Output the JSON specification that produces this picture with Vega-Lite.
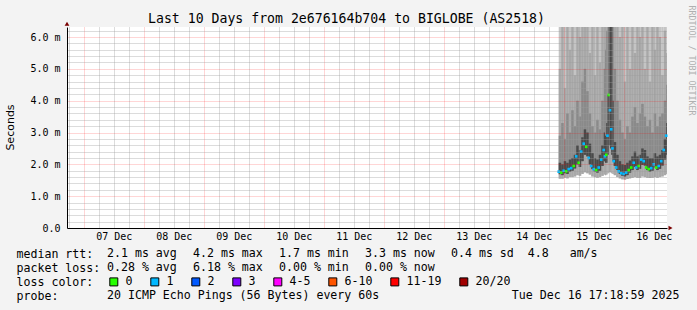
{
"$schema": "https://vega.github.io/schema/vega-lite/v6.json",
"width": 600,
"height": 201,
"autosize": {"type": "none"},
"padding": {"left": 67, "top": 27, "right": 30, "bottom": 82},
"background": "#f3f3f3",
"config": {"view": {"fill": "#ffffff", "stroke": null}, "font": "DejaVu Sans Mono"},
"title": {"text": "Last 10 Days from 2e676164b704 to BIGLOBE (AS2518)", "font": "DejaVu Sans Mono", "fontSize": 13.2, "fontWeight": "normal", "color": "#000000", "anchor": "start", "align": "left", "frame": "group", "dx": 81, "offset": -31.2, "baseline": "alphabetic"},
"datasets": {
"ping": [
{"t0": "2025-12-14T22:00:00", "t1": "2025-12-14T23:00:00", "med": 1.77, "loss": "1", "lo": 1.55, "q1": 1.69, "q3": 2.05, "q4": 2.9, "p90": 5.0},
{"t0": "2025-12-14T23:00:00", "t1": "2025-12-15T00:00:00", "med": 1.74, "loss": "0", "lo": 1.55, "q1": 1.66, "q3": 2.0, "q4": 3.3, "p90": 7.0},
{"t0": "2025-12-15T00:00:00", "t1": "2025-12-15T01:00:00", "med": 1.80, "loss": "1", "lo": 1.58, "q1": 1.72, "q3": 2.1, "q4": 2.8, "p90": 4.4},
{"t0": "2025-12-15T01:00:00", "t1": "2025-12-15T02:00:00", "med": 1.78, "loss": "0", "lo": 1.56, "q1": 1.70, "q3": 2.05, "q4": 3.6, "p90": 7.5},
{"t0": "2025-12-15T02:00:00", "t1": "2025-12-15T03:00:00", "med": 1.85, "loss": "1", "lo": 1.6, "q1": 1.77, "q3": 2.15, "q4": 3.0, "p90": 5.6},
{"t0": "2025-12-15T03:00:00", "t1": "2025-12-15T04:00:00", "med": 1.88, "loss": "1", "lo": 1.6, "q1": 1.80, "q3": 2.2, "q4": 3.7, "p90": 8.0},
{"t0": "2025-12-15T04:00:00", "t1": "2025-12-15T05:00:00", "med": 1.95, "loss": "0", "lo": 1.62, "q1": 1.87, "q3": 2.3, "q4": 3.2, "p90": 4.8},
{"t0": "2025-12-15T05:00:00", "t1": "2025-12-15T06:00:00", "med": 2.25, "loss": "1", "lo": 1.66, "q1": 2.0, "q3": 2.6, "q4": 4.0, "p90": 7.5},
{"t0": "2025-12-15T06:00:00", "t1": "2025-12-15T07:00:00", "med": 2.05, "loss": "0", "lo": 1.64, "q1": 1.92, "q3": 2.45, "q4": 3.5, "p90": 6.0},
{"t0": "2025-12-15T07:00:00", "t1": "2025-12-15T08:00:00", "med": 2.4, "loss": "1", "lo": 1.7, "q1": 2.1, "q3": 2.85, "q4": 4.6, "p90": 8.0},
{"t0": "2025-12-15T08:00:00", "t1": "2025-12-15T09:00:00", "med": 2.65, "loss": "1", "lo": 1.75, "q1": 2.3, "q3": 3.1, "q4": 5.0, "p90": 7.2},
{"t0": "2025-12-15T09:00:00", "t1": "2025-12-15T10:00:00", "med": 2.55, "loss": "0", "lo": 1.72, "q1": 2.25, "q3": 3.0, "q4": 4.3, "p90": 8.5},
{"t0": "2025-12-15T10:00:00", "t1": "2025-12-15T11:00:00", "med": 2.2, "loss": "1", "lo": 1.68, "q1": 2.0, "q3": 2.65, "q4": 3.6, "p90": 5.5},
{"t0": "2025-12-15T11:00:00", "t1": "2025-12-15T12:00:00", "med": 1.95, "loss": "1", "lo": 1.62, "q1": 1.85, "q3": 2.35, "q4": 3.2, "p90": 7.0},
{"t0": "2025-12-15T12:00:00", "t1": "2025-12-15T13:00:00", "med": 1.85, "loss": "1", "lo": 1.6, "q1": 1.77, "q3": 2.2, "q4": 3.0, "p90": 4.8},
{"t0": "2025-12-15T13:00:00", "t1": "2025-12-15T14:00:00", "med": 1.82, "loss": "0", "lo": 1.58, "q1": 1.74, "q3": 2.15, "q4": 3.4, "p90": 6.6},
{"t0": "2025-12-15T14:00:00", "t1": "2025-12-15T15:00:00", "med": 1.9, "loss": "1", "lo": 1.6, "q1": 1.8, "q3": 2.3, "q4": 3.1, "p90": 5.2},
{"t0": "2025-12-15T15:00:00", "t1": "2025-12-15T16:00:00", "med": 2.15, "loss": "1", "lo": 1.64, "q1": 1.95, "q3": 2.6, "q4": 4.0, "p90": 8.0},
{"t0": "2025-12-15T16:00:00", "t1": "2025-12-15T16:30:00", "med": 2.45, "loss": "1", "lo": 1.68, "q1": 2.1, "q3": 3.0, "q4": 5.0, "p90": 8.5},
{"t0": "2025-12-15T16:30:00", "t1": "2025-12-15T17:00:00", "med": 2.25, "loss": "1", "lo": 1.66, "q1": 2.05, "q3": 2.9, "q4": 5.6, "p90": 9.0},
{"t0": "2025-12-15T17:00:00", "t1": "2025-12-15T17:30:00", "med": 2.3, "loss": "0", "lo": 1.68, "q1": 2.05, "q3": 3.3, "q4": 6.2, "p90": 9.0},
{"t0": "2025-12-15T17:30:00", "t1": "2025-12-15T18:00:00", "med": 2.9, "loss": "1", "lo": 1.72, "q1": 2.3, "q3": 4.2, "q4": 7.5, "p90": 9.0},
{"t0": "2025-12-15T18:00:00", "t1": "2025-12-15T18:30:00", "med": 4.18, "loss": "0", "lo": 1.75, "q1": 2.6, "q3": 9.0, "q4": 9.0, "p90": 9.0},
{"t0": "2025-12-15T18:30:00", "t1": "2025-12-15T19:00:00", "med": 3.7, "loss": "1", "lo": 1.75, "q1": 2.5, "q3": 9.0, "q4": 9.0, "p90": 9.0},
{"t0": "2025-12-15T19:00:00", "t1": "2025-12-15T19:30:00", "med": 3.1, "loss": "1", "lo": 1.72, "q1": 2.3, "q3": 6.5, "q4": 9.0, "p90": 9.0},
{"t0": "2025-12-15T19:30:00", "t1": "2025-12-15T20:00:00", "med": 2.5, "loss": "1", "lo": 1.7, "q1": 2.1, "q3": 4.0, "q4": 7.0, "p90": 9.0},
{"t0": "2025-12-15T20:00:00", "t1": "2025-12-15T21:00:00", "med": 2.1, "loss": "1", "lo": 1.66, "q1": 1.95, "q3": 2.7, "q4": 5.0, "p90": 8.5},
{"t0": "2025-12-15T21:00:00", "t1": "2025-12-15T22:00:00", "med": 1.9, "loss": "1", "lo": 1.6, "q1": 1.82, "q3": 2.3, "q4": 4.0, "p90": 7.5},
{"t0": "2025-12-15T22:00:00", "t1": "2025-12-15T23:00:00", "med": 1.78, "loss": "1", "lo": 1.56, "q1": 1.70, "q3": 2.1, "q4": 3.4, "p90": 6.0},
{"t0": "2025-12-15T23:00:00", "t1": "2025-12-16T00:00:00", "med": 1.72, "loss": "1", "lo": 1.53, "q1": 1.64, "q3": 2.0, "q4": 3.0, "p90": 7.0},
{"t0": "2025-12-16T00:00:00", "t1": "2025-12-16T01:00:00", "med": 1.70, "loss": "1", "lo": 1.52, "q1": 1.62, "q3": 1.98, "q4": 2.8, "p90": 4.6},
{"t0": "2025-12-16T01:00:00", "t1": "2025-12-16T02:00:00", "med": 1.74, "loss": "1", "lo": 1.54, "q1": 1.66, "q3": 2.05, "q4": 3.2, "p90": 6.5},
{"t0": "2025-12-16T02:00:00", "t1": "2025-12-16T03:00:00", "med": 1.82, "loss": "0", "lo": 1.56, "q1": 1.74, "q3": 2.12, "q4": 3.0, "p90": 5.0},
{"t0": "2025-12-16T03:00:00", "t1": "2025-12-16T04:00:00", "med": 1.9, "loss": "0", "lo": 1.58, "q1": 1.82, "q3": 2.25, "q4": 3.5, "p90": 7.2},
{"t0": "2025-12-16T04:00:00", "t1": "2025-12-16T05:00:00", "med": 2.05, "loss": "1", "lo": 1.6, "q1": 1.92, "q3": 2.4, "q4": 3.8, "p90": 5.5},
{"t0": "2025-12-16T05:00:00", "t1": "2025-12-16T06:00:00", "med": 1.9, "loss": "1", "lo": 1.58, "q1": 1.82, "q3": 2.25, "q4": 3.3, "p90": 8.0},
{"t0": "2025-12-16T06:00:00", "t1": "2025-12-16T07:00:00", "med": 1.95, "loss": "0", "lo": 1.58, "q1": 1.86, "q3": 2.3, "q4": 3.6, "p90": 6.0},
{"t0": "2025-12-16T07:00:00", "t1": "2025-12-16T08:00:00", "med": 2.15, "loss": "1", "lo": 1.62, "q1": 1.98, "q3": 2.5, "q4": 3.9, "p90": 7.5},
{"t0": "2025-12-16T08:00:00", "t1": "2025-12-16T09:00:00", "med": 2.1, "loss": "1", "lo": 1.6, "q1": 1.96, "q3": 2.45, "q4": 3.5, "p90": 5.0},
{"t0": "2025-12-16T09:00:00", "t1": "2025-12-16T10:00:00", "med": 1.9, "loss": "0", "lo": 1.58, "q1": 1.82, "q3": 2.25, "q4": 3.2, "p90": 6.6},
{"t0": "2025-12-16T10:00:00", "t1": "2025-12-16T11:00:00", "med": 1.85, "loss": "0", "lo": 1.57, "q1": 1.77, "q3": 2.2, "q4": 3.4, "p90": 4.6},
{"t0": "2025-12-16T11:00:00", "t1": "2025-12-16T12:00:00", "med": 1.88, "loss": "1", "lo": 1.58, "q1": 1.8, "q3": 2.2, "q4": 3.0, "p90": 7.0},
{"t0": "2025-12-16T12:00:00", "t1": "2025-12-16T13:00:00", "med": 2.0, "loss": "1", "lo": 1.6, "q1": 1.9, "q3": 2.35, "q4": 3.6, "p90": 5.6},
{"t0": "2025-12-16T13:00:00", "t1": "2025-12-16T14:00:00", "med": 1.9, "loss": "0", "lo": 1.58, "q1": 1.82, "q3": 2.25, "q4": 3.2, "p90": 8.0},
{"t0": "2025-12-16T14:00:00", "t1": "2025-12-16T15:00:00", "med": 1.95, "loss": "1", "lo": 1.6, "q1": 1.86, "q3": 2.3, "q4": 3.5, "p90": 6.0},
{"t0": "2025-12-16T15:00:00", "t1": "2025-12-16T16:00:00", "med": 2.1, "loss": "1", "lo": 1.62, "q1": 1.96, "q3": 2.45, "q4": 3.6, "p90": 4.8},
{"t0": "2025-12-16T16:00:00", "t1": "2025-12-16T17:00:00", "med": 2.45, "loss": "1", "lo": 1.66, "q1": 2.15, "q3": 2.8, "q4": 4.0, "p90": 6.2},
{"t0": "2025-12-16T17:00:00", "t1": "2025-12-16T17:18:59", "med": 2.9, "loss": "1", "lo": 1.7, "q1": 2.3, "q3": 3.3, "q4": 4.5, "p90": 5.5}
],
"stats": [
{"row": "median rtt:", "col": "avg", "txt": "2.1 ms avg"},
{"row": "median rtt:", "col": "max", "txt": "4.2 ms max"},
{"row": "median rtt:", "col": "min", "txt": "1.7 ms min"},
{"row": "median rtt:", "col": "now", "txt": "3.3 ms now"},
{"row": "median rtt:", "col": "sd", "txt": "0.4 ms sd\u00a0\u00a04.8\u00a0\u00a0\u00a0am/s"},
{"row": "packet loss:", "col": "avg", "txt": "0.28 % avg"},
{"row": "packet loss:", "col": "max", "txt": "6.18 % max"},
{"row": "packet loss:", "col": "min", "txt": "0.00 % min"},
{"row": "packet loss:", "col": "now", "txt": "0.00 % now"},
{"row": "probe:", "col": "avg", "txt": "20 ICMP Echo Pings (56 Bytes) every 60s\u00a0\u00a0\u00a0\u00a0\u00a0\u00a0\u00a0\u00a0\u00a0\u00a0\u00a0\u00a0\u00a0\u00a0\u00a0\u00a0\u00a0\u00a0\u00a0Tue Dec 16 17:18:59 2025"}
],
"marker": [{"end": "top"}]
},
"layer": [
{
"data": {"name": "ping"},
"mark": {"type": "rect", "clip": true, "color": "#c4c4c4"},
"encoding": {
"x": {"field": "t0", "type": "temporal", "scale": {"domain": [{"year": 2025, "month": 12, "date": 6, "hours": 17, "minutes": 18, "seconds": 59}, {"year": 2025, "month": 12, "date": 16, "hours": 17, "minutes": 18, "seconds": 59}], "nice": false},
"axis": {"orient": "bottom", "title": null, "labels": false, "ticks": false, "domain": false, "grid": true, "gridColor": "#9a9a9a", "gridOpacity": 0.7, "gridDash": [1, 1], "zindex": 1,
"values": [
{"year": 2025, "month": 12, "date": 6, "hours": 18},
{"year": 2025, "month": 12, "date": 7, "hours": 6}, {"year": 2025, "month": 12, "date": 7, "hours": 12}, {"year": 2025, "month": 12, "date": 7, "hours": 18},
{"year": 2025, "month": 12, "date": 8, "hours": 6}, {"year": 2025, "month": 12, "date": 8, "hours": 12}, {"year": 2025, "month": 12, "date": 8, "hours": 18},
{"year": 2025, "month": 12, "date": 9, "hours": 6}, {"year": 2025, "month": 12, "date": 9, "hours": 12}, {"year": 2025, "month": 12, "date": 9, "hours": 18},
{"year": 2025, "month": 12, "date": 10, "hours": 6}, {"year": 2025, "month": 12, "date": 10, "hours": 12}, {"year": 2025, "month": 12, "date": 10, "hours": 18},
{"year": 2025, "month": 12, "date": 11, "hours": 6}, {"year": 2025, "month": 12, "date": 11, "hours": 12}, {"year": 2025, "month": 12, "date": 11, "hours": 18},
{"year": 2025, "month": 12, "date": 12, "hours": 6}, {"year": 2025, "month": 12, "date": 12, "hours": 12}, {"year": 2025, "month": 12, "date": 12, "hours": 18},
{"year": 2025, "month": 12, "date": 13, "hours": 6}, {"year": 2025, "month": 12, "date": 13, "hours": 12}, {"year": 2025, "month": 12, "date": 13, "hours": 18},
{"year": 2025, "month": 12, "date": 14, "hours": 6}, {"year": 2025, "month": 12, "date": 14, "hours": 12}, {"year": 2025, "month": 12, "date": 14, "hours": 18},
{"year": 2025, "month": 12, "date": 15, "hours": 6}, {"year": 2025, "month": 12, "date": 15, "hours": 12}, {"year": 2025, "month": 12, "date": 15, "hours": 18},
{"year": 2025, "month": 12, "date": 16, "hours": 6}, {"year": 2025, "month": 12, "date": 16, "hours": 12}
]}},
"x2": {"field": "t1"},
"y": {"field": "lo", "type": "quantitative", "scale": {"domain": [0, 6.315], "nice": false, "zero": false},
"axis": {"orient": "left", "title": null, "labels": false, "ticks": false, "domain": false, "grid": true, "gridColor": "#9a9a9a", "gridOpacity": 0.7, "gridDash": [1, 1], "values": [0.2, 0.4, 0.6, 0.8, 1.2, 1.4, 1.6, 1.8, 2.2, 2.4, 2.6, 2.8, 3.2, 3.4, 3.6, 3.8, 4.2, 4.4, 4.6, 4.8, 5.2, 5.4, 5.6, 5.8, 6.2], "zindex": 1}},
"y2": {"datum": 9}
}
},
{
"data": {"name": "ping"},
"mark": {"type": "rect", "clip": true, "color": "#a8a8a8"},
"encoding": {
"x": {"field": "t0", "type": "temporal", "scale": {"domain": [{"year": 2025, "month": 12, "date": 6, "hours": 17, "minutes": 18, "seconds": 59}, {"year": 2025, "month": 12, "date": 16, "hours": 17, "minutes": 18, "seconds": 59}], "nice": false},
"axis": {"orient": "bottom", "title": null, "labels": false, "ticks": false, "domain": false, "grid": true, "gridColor": "#ff0000", "gridOpacity": 0.32, "gridDash": [1, 1], "zindex": 1,
"values": [{"year": 2025, "month": 12, "date": 7}, {"year": 2025, "month": 12, "date": 8}, {"year": 2025, "month": 12, "date": 9}, {"year": 2025, "month": 12, "date": 10}, {"year": 2025, "month": 12, "date": 11}, {"year": 2025, "month": 12, "date": 12}, {"year": 2025, "month": 12, "date": 13}, {"year": 2025, "month": 12, "date": 14}, {"year": 2025, "month": 12, "date": 15}, {"year": 2025, "month": 12, "date": 16}]}},
"x2": {"field": "t1"},
"y": {"field": "lo", "type": "quantitative", "scale": {"domain": [0, 6.315], "nice": false, "zero": false},
"axis": {"orient": "left", "title": null, "labels": false, "ticks": false, "domain": false, "grid": true, "gridColor": "#ff0000", "gridOpacity": 0.32, "gridDash": [1, 1], "values": [1, 2, 3, 4, 5, 6], "zindex": 1}},
"y2": {"field": "p90"}
}
},
{
"data": {"name": "ping"},
"mark": {"type": "rect", "clip": true, "color": "#8a8a8a"},
"encoding": {
"x": {"field": "t0", "type": "temporal", "scale": {"domain": [{"year": 2025, "month": 12, "date": 6, "hours": 17, "minutes": 18, "seconds": 59}, {"year": 2025, "month": 12, "date": 16, "hours": 17, "minutes": 18, "seconds": 59}], "nice": false}, "axis": null},
"x2": {"field": "t1"},
"y": {"field": "q1", "type": "quantitative", "scale": {"domain": [0, 6.315], "nice": false, "zero": false},
"axis": {"orient": "left", "labels": false, "ticks": false, "domain": false, "grid": false, "title": "RRDTOOL / TOBI OETIKER", "titleAngle": 90, "titleX": 623, "titleY": 33, "titleAlign": "center", "titleBaseline": "middle", "titleFont": "DejaVu Sans Mono", "titleFontSize": 8.3, "titleFontWeight": "normal", "titleColor": "#b0b0b0"}},
"y2": {"field": "q4"}
}
},
{
"data": {"name": "ping"},
"mark": {"type": "rect", "clip": true, "color": "#4a4a4a"},
"encoding": {
"x": {"field": "t0", "type": "temporal", "scale": {"domain": [{"year": 2025, "month": 12, "date": 6, "hours": 17, "minutes": 18, "seconds": 59}, {"year": 2025, "month": 12, "date": 16, "hours": 17, "minutes": 18, "seconds": 59}], "nice": false}, "axis": null},
"x2": {"field": "t1"},
"y": {"field": "q1", "type": "quantitative", "scale": {"domain": [0, 6.315], "nice": false, "zero": false}, "axis": null},
"y2": {"field": "q3"}
}
},
{
"data": {"name": "ping"},
"mark": {"type": "point", "shape": "square", "filled": true, "size": 7, "opacity": 1, "strokeWidth": 0},
"encoding": {
"x": {"field": "t0", "type": "temporal", "scale": {"domain": [{"year": 2025, "month": 12, "date": 6, "hours": 17, "minutes": 18, "seconds": 59}, {"year": 2025, "month": 12, "date": 16, "hours": 17, "minutes": 18, "seconds": 59}], "nice": false},
"axis": {"orient": "bottom", "title": null, "grid": false, "ticks": false, "tickSize": 0, "domain": true, "domainColor": "#000000", "domainWidth": 1, "format": "%d %b", "labelOffset": 30, "labelPadding": 3, "labelFont": "DejaVu Sans Mono", "labelFontSize": 10, "labelColor": "#000000", "labelBaseline": "top", "labelAlign": "center", "labelFlush": false, "labelOverlap": false, "zindex": 1,
"values": [{"year": 2025, "month": 12, "date": 7}, {"year": 2025, "month": 12, "date": 8}, {"year": 2025, "month": 12, "date": 9}, {"year": 2025, "month": 12, "date": 10}, {"year": 2025, "month": 12, "date": 11}, {"year": 2025, "month": 12, "date": 12}, {"year": 2025, "month": 12, "date": 13}, {"year": 2025, "month": 12, "date": 14}, {"year": 2025, "month": 12, "date": 15}, {"year": 2025, "month": 12, "date": 16}]}},
"y": {"field": "med", "type": "quantitative", "scale": {"domain": [0, 6.315], "nice": false, "zero": false},
"axis": {"orient": "left", "title": "Seconds", "grid": false, "ticks": false, "tickSize": 0, "domain": true, "domainColor": "#000000", "values": [0, 1, 2, 3, 4, 5, 6], "labelExpr": "datum.value == 0 ? '0.0' : format(datum.value, '.1f') + ' m'", "labelPadding": 7, "labelFont": "DejaVu Sans Mono", "labelFontSize": 10, "labelColor": "#000000", "labelFlush": false, "labelOverlap": false, "titleFont": "DejaVu Sans", "titleFontSize": 11, "titleFontWeight": "normal", "titleColor": "#000000", "titleX": -57, "titleY": 100, "titleAngle": 270, "titleAlign": "center", "titleBaseline": "middle", "zindex": 1}},
"color": {"field": "loss", "type": "nominal",
"scale": {"domain": ["0", "1", "2", "3", "4-5", "6-10", "11-19", "20/20"], "range": ["#26ff00", "#00b8ff", "#0059ff", "#7e00ff", "#ff00ff", "#ff5500", "#ff0000", "#a10000"]},
"legend": {"orient": "none", "legendX": 41, "legendY": 249, "direction": "horizontal", "title": null, "symbolType": "square", "symbolSize": 64, "symbolStrokeColor": "#000000", "symbolStrokeWidth": 1, "symbolOpacity": 1, "labelFont": "DejaVu Sans Mono", "labelFontSize": 11.6, "labelColor": "#000000", "labelOffset": 6, "columnPadding": 15, "padding": 0, "labelBaseline": "middle",
"encode": {"symbols": {"update": {"stroke": {"value": "#000000"}, "strokeWidth": {"value": 1}, "size": {"value": 64}, "opacity": {"value": 1}, "shape": {"value": "square"}}}}}
}
}
},
{
"data": {"name": "marker"},
"mark": {"type": "point", "shape": "triangle-up", "filled": true, "color": "#7a0000", "size": 22, "opacity": 1, "clip": false},
"encoding": {
"x": {"datum": {"year": 2025, "month": 12, "date": 6, "hours": 17, "minutes": 18, "seconds": 59}, "type": "temporal", "scale": {"domain": [{"year": 2025, "month": 12, "date": 6, "hours": 17, "minutes": 18, "seconds": 59}, {"year": 2025, "month": 12, "date": 16, "hours": 17, "minutes": 18, "seconds": 59}], "nice": false}, "axis": null},
"y": {"datum": 6.42, "type": "quantitative", "scale": {"domain": [0, 6.315], "nice": false, "zero": false}, "axis": null}
}
},
{
"data": {"name": "marker"},
"mark": {"type": "point", "shape": "triangle-right", "filled": true, "color": "#7a0000", "size": 22, "opacity": 1, "clip": false},
"encoding": {
"x": {"datum": {"year": 2025, "month": 12, "date": 16, "hours": 18, "minutes": 43}, "type": "temporal", "scale": {"domain": [{"year": 2025, "month": 12, "date": 6, "hours": 17, "minutes": 18, "seconds": 59}, {"year": 2025, "month": 12, "date": 16, "hours": 17, "minutes": 18, "seconds": 59}], "nice": false}, "axis": null},
"y": {"datum": 0, "type": "quantitative", "scale": {"domain": [0, 6.315], "nice": false, "zero": false}, "axis": null}
}
},
{
"data": {"name": "stats"},
"mark": {"type": "text", "align": "left", "baseline": "middle", "font": "DejaVu Sans Mono", "fontSize": 11.6, "color": "#000000"},
"encoding": {
"y": {"field": "row", "type": "nominal", "scale": {"type": "point", "domain": ["median rtt:", "packet loss:", "loss color:", "probe:"], "range": [227, 269], "padding": 0},
"axis": {"orient": "left", "title": null, "domain": false, "ticks": false, "tickSize": 0, "grid": false, "labelPadding": 51, "labelAlign": "left", "labelBaseline": "middle", "labelFont": "DejaVu Sans Mono", "labelFontSize": 11.6, "labelColor": "#000000", "labelLimit": 0, "labelOverlap": false}},
"x": {"field": "col", "type": "nominal", "scale": {"type": "point", "domain": ["avg", "max", "min", "now", "sd"], "range": [40, 384], "padding": 0}, "axis": null},
"text": {"field": "txt"}
}
}
],
"resolve": {"scale": {"x": "independent", "y": "independent"}}
}
